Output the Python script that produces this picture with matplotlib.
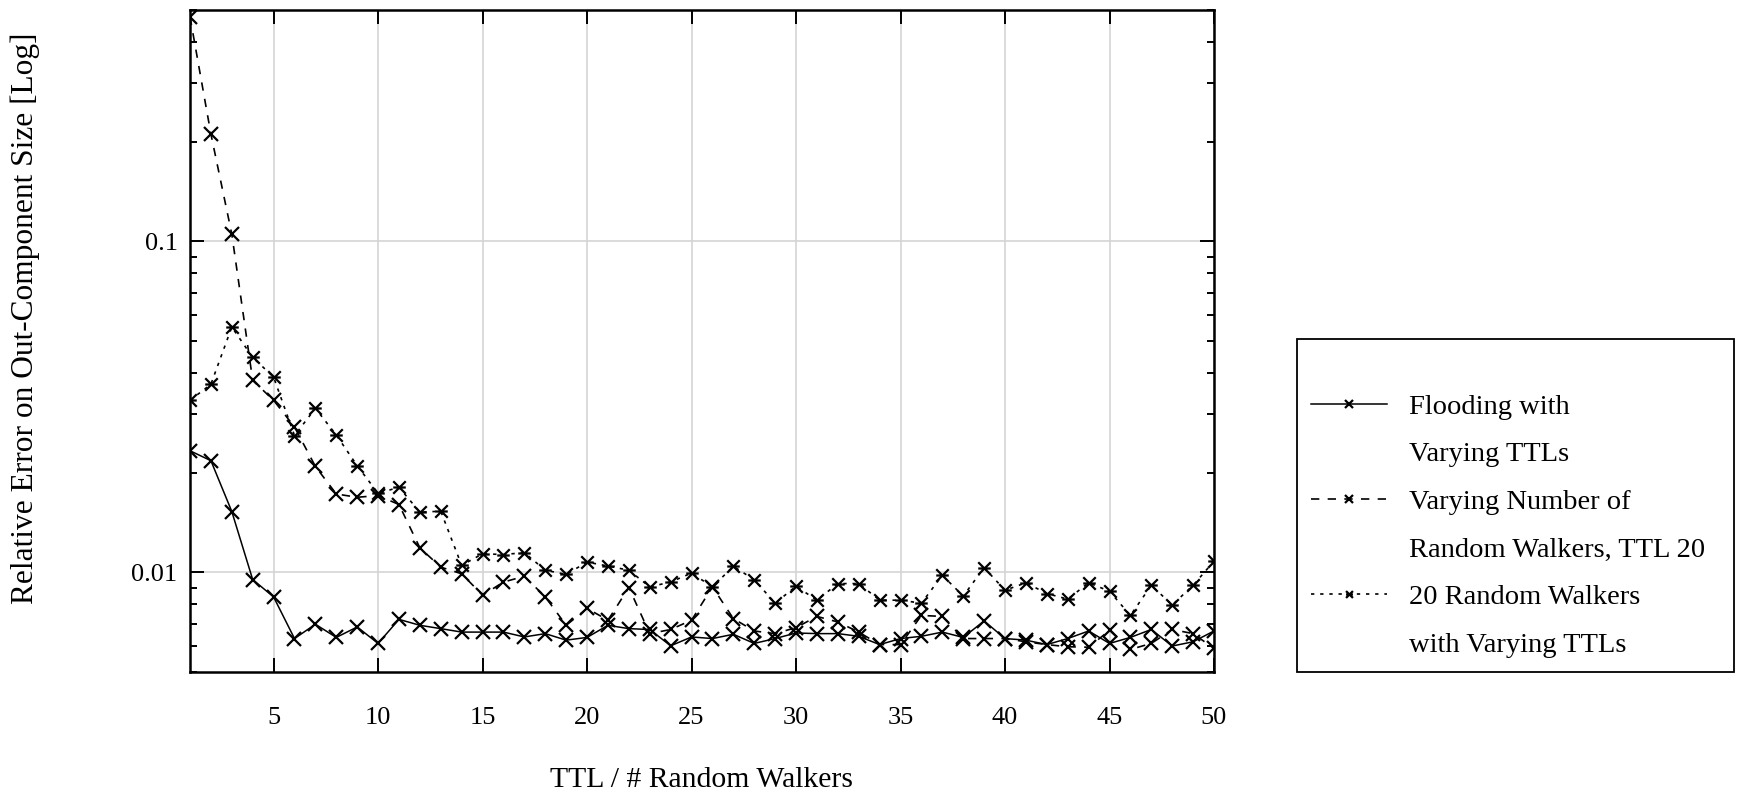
import numpy as np
import matplotlib
matplotlib.use('Agg')
import matplotlib.pyplot as plt
from matplotlib.path import Path
from matplotlib.lines import Line2D

plt.rcParams['font.family'] = ['Liberation Serif', 'DejaVu Serif']
plt.rcParams['font.size'] = 19

# x axis: TTL or number of random walkers
steps = list(range(1, 51))

flooding = [0.0233, 0.02175, 0.01527, 0.00951, 0.00843, 0.00631, 0.00697, 0.00636, 0.00684, 0.0061,
            0.00721, 0.00692, 0.00676, 0.0066, 0.0066, 0.0066, 0.00638, 0.00653, 0.00624, 0.00636,
            0.00692, 0.00676, 0.00672, 0.006, 0.00638, 0.00631, 0.0065, 0.0061, 0.00631, 0.00656,
            0.00653, 0.00653, 0.00641, 0.00605, 0.00631, 0.00641, 0.0066, 0.00636, 0.00713, 0.00631,
            0.00624, 0.00605, 0.00631, 0.00665, 0.0061, 0.00636, 0.00672, 0.00599, 0.00617, 0.00665]

num_walkers = [0.477, 0.211, 0.1052, 0.038, 0.0331, 0.0275, 0.0209, 0.01725, 0.01686, 0.01706,
               0.01603, 0.01186, 0.01037, 0.0099, 0.00853, 0.00935, 0.00973, 0.00843, 0.00692, 0.00778,
               0.00717, 0.009, 0.00653, 0.00672, 0.00717, 0.00904, 0.00725, 0.00665, 0.00653, 0.00681,
               0.00736, 0.00708, 0.0066, 0.00605, 0.00605, 0.00741, 0.00736, 0.00631, 0.00631, 0.00631,
               0.00617, 0.00605, 0.00596, 0.00594, 0.00668, 0.00585, 0.0061, 0.00672, 0.00653, 0.00589]

walkers_ttl = [0.0331, 0.037, 0.0551, 0.0446, 0.0389, 0.0259, 0.0313, 0.026, 0.021, 0.01733,
               0.01807, 0.0152, 0.0153, 0.0105, 0.01138, 0.01132, 0.01147, 0.01015, 0.00986, 0.01074,
               0.01045, 0.01015, 0.00904, 0.00935, 0.00995, 0.00904, 0.01043, 0.0095, 0.00807, 0.00908,
               0.00824, 0.00925, 0.00925, 0.00824, 0.00824, 0.00807, 0.0098, 0.00848, 0.01033, 0.00883,
               0.0093, 0.00863, 0.0083, 0.0093, 0.00877, 0.00741, 0.00914, 0.00797, 0.00914, 0.01081]

labels = ['Flooding with', 'Varying TTLs',
          'Varying Number of', 'Random Walkers, TTL 20',
          '20 Random Walkers', 'with Varying TTLs']

# gnuplot style asterisk: an x with a horizontal bar through it
star = Path([(-1, -1), (1, 1), (-1, 1), (1, -1), (-1, 0), (1, 0)],
            [Path.MOVETO, Path.LINETO, Path.MOVETO, Path.LINETO, Path.MOVETO, Path.LINETO])

fig = plt.figure(figsize=(17.37, 7.92), dpi=100)
ax = fig.add_axes([190 / 1737, 1 - 672 / 792, 1024 / 1737, 662 / 792])

l1, = ax.plot(steps, flooding, color='black', lw=1.1, marker='x', ms=10, mew=1.6, zorder=3)
l2, = ax.plot(steps, num_walkers, color='black', lw=1.2, dashes=(5, 5), marker='x', ms=10, mew=1.6, zorder=3)
l3, = ax.plot(steps, walkers_ttl, color='black', lw=1.2, dashes=(2, 3.5), marker=star, ms=9, mew=1.6, zorder=3)

ax.set_yscale('log')
ax.set_xlim(1, 50)
ax.set_ylim(0.005, 0.5)
ax.set_xticks(range(5, 51, 5))
ax.set_yticks([0.01, 0.1], labels=['0.01', '0.1'])
ax.yaxis.set_minor_formatter(matplotlib.ticker.NullFormatter())

ax.grid(True, which='major', color='#d4d4d4', lw=1.2, zorder=0)
for s in ax.spines.values():
    s.set_linewidth(1.8)
ax.tick_params(which='both', direction='in', top=True, right=True, width=1.4)
ax.tick_params(which='major', length=10)
ax.tick_params(which='minor', length=5)
ax.tick_params(axis='x', pad=25)
ax.tick_params(axis='y', pad=9)

ax.set_xlabel('TTL / # Random Walkers', fontsize=21.4)
ax.xaxis.set_label_coords(0.5, -0.143)
fig.text(25 / 1737, 1 - 318 / 792, 'Relative Error on Out-Component Size [Log]',
         rotation=90, ha='center', va='center', fontsize=22.6)

# two-line legend entries: second line gets an empty handle
blank = Line2D([], [], color='none')
leg = fig.legend([l1, blank, l2, blank, l3, blank], labels,
                 loc='lower left', mode='expand',
                 bbox_to_anchor=(1297 / 1737, 1 - 672 / 792, 437 / 1737, 0.3),
                 frameon=True, fancybox=False, framealpha=1, edgecolor='black',
                 handlelength=2.66, handletextpad=0.77, borderpad=0.5, fontsize=20.5,
                 labelspacing=0.76, markerscale=0.55, title=' ', title_fontsize=16,
                 borderaxespad=0)
leg.get_frame().set_linewidth(1.3)

fig.savefig('out.png', dpi=100)
